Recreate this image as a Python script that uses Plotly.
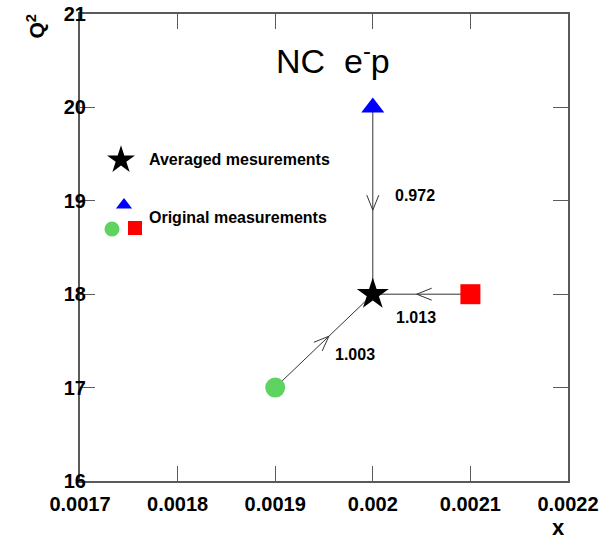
import numpy as np
import plotly.graph_objects as go

# ---------------- data ----------------
orig_x = [0.0019, 0.0020, 0.0021]
orig_q2 = [17.0, 20.0, 18.0]
orig_symbols = ["circle", "triangle-up", "square"]
orig_colors = ["#5fd35f", "#0000ff", "#ff0000"]
avg_x = [0.0020]
avg_q2 = [18.0]
ratios = ["1.003", "0.972", "1.013"]
x_ticks = [0.0017, 0.0018, 0.0019, 0.0020, 0.0021, 0.0022]
x_ticktext = ["0.0017", "0.0018", "0.0019", "0.002", "0.0021", "0.0022"]
y_ticks = [16, 17, 18, 19, 20, 21]
title_text = "NC\u00a0\u00a0e<sup>-</sup>p"
legend_labels = ["Averaged mesurements", "Original measurements"]

# ---------------- layout geometry (page pixel coords) ----------------
W, H = 611, 539
L, R, T, B = 80, 568, 14, 481
XR = [0.0017, 0.0022]
YR = [16, 21]
sx = (R - L) / (XR[1] - XR[0])
sy = (B - T) / (YR[1] - YR[0])

def to_px(x, y):
    return L + (x - XR[0]) * sx, B - (y - YR[0]) * sy

def to_data(px, py):
    return XR[0] + (px - L) / sx, YR[0] + (B - py) / sy

def pap(px, py):
    return (px - L) / (R - L), (B - py) / (B - T)

font_b = dict(family="Liberation Sans", color="black", weight="bold")
axcol = "#5a5a5a"
lncol = "#333333"

fig = go.Figure()

# connecting lines and open chevron arrowheads
for xo, yo in zip(orig_x, orig_q2):
    xa, ya = avg_x[0], avg_q2[0]
    fig.add_trace(go.Scatter(x=[xo, xa], y=[yo, ya], mode="lines",
                             line=dict(color=lncol, width=1),
                             hoverinfo="skip", showlegend=False))
    p0 = np.array(to_px(xo, yo)); p1 = np.array(to_px(xa, ya))
    d = (p1 - p0) / np.linalg.norm(p1 - p0)
    perp = np.array([-d[1], d[0]])
    tip = p0 + 0.55 * (p1 - p0)
    a1 = tip - 15 * d + 6 * perp
    a2 = tip - 15 * d - 6 * perp
    pts = [to_data(*a1), to_data(*tip), to_data(*a2)]
    fig.add_trace(go.Scatter(x=[p[0] for p in pts], y=[p[1] for p in pts], mode="lines",
                             line=dict(color=lncol, width=1),
                             hoverinfo="skip", showlegend=False))

# ratio labels, offset (pixels) from the line midpoints
label_shift = {"1.003": (9, -14), "0.972": (20, 5), "1.013": (-28, -23)}
for xo, yo, lab in zip(orig_x, orig_q2, ratios):
    mx, my = (xo + avg_x[0]) / 2, (yo + avg_q2[0]) / 2
    dx, dy = label_shift[lab]
    fig.add_annotation(x=mx, y=my, text=lab, showarrow=False, xanchor="left",
                       yanchor="middle", xshift=dx, yshift=dy,
                       font=dict(size=16, **font_b))

# original points
for xo, yo, s, c in zip(orig_x, orig_q2, orig_symbols, orig_colors):
    fig.add_trace(go.Scatter(x=[xo], y=[yo], mode="markers",
                             marker=dict(symbol=s, size=20, color=c, line=dict(width=0)),
                             showlegend=False))
# averaged point
fig.add_trace(go.Scatter(x=avg_x, y=avg_q2, mode="markers",
                         marker=dict(symbol="star", size=24, color="black", line=dict(width=0)),
                         showlegend=False))

# custom legend on overlay pixel axes
leg_pts = [(121, 160, "star", "black", 21), (124, 205, "triangle-up", "#0000ff", 14),
           (112, 229, "circle", "#5fd35f", 15), (135, 228, "square", "#ff0000", 14)]
for px, py, s, c, sz in leg_pts:
    fig.add_trace(go.Scatter(x=[px], y=[py], xaxis="x2", yaxis="y2", mode="markers",
                             marker=dict(symbol=s, size=sz, color=c, line=dict(width=0)),
                             showlegend=False, hoverinfo="skip"))
for (px, py), txt in zip([(147, 159), (147, 217)], legend_labels):
    fig.add_annotation(x=px, y=py, xref="x2", yref="y2", text=txt, showarrow=False,
                       xanchor="left", yanchor="middle", font=dict(size=16, **font_b))

# title, axis titles
tx, ty = pap(333, 58)
fig.add_annotation(x=tx, y=ty, xref="paper", yref="paper", text=title_text, showarrow=False,
                   xanchor="center", yanchor="middle",
                   font=dict(size=34, family="Liberation Sans", color="black"))
qx, qy = pap(36, 12)
fig.add_annotation(x=qx, y=qy, xref="paper", yref="paper", text="Q<sup>2</sup>", showarrow=False,
                   textangle=-90, xanchor="center", yanchor="top", font=dict(size=21, **font_b))
xx, xy = pap(567, 527)
fig.add_annotation(x=xx, y=xy, xref="paper", yref="paper", text="x", showarrow=False,
                   xanchor="right", yanchor="middle", font=dict(size=22, **font_b))

axis_common = dict(showline=True, linecolor=axcol, linewidth=2, mirror="ticks",
                   ticks="inside", ticklen=15, tickcolor=axcol, tickwidth=1,
                   showgrid=False, zeroline=False, automargin=False,
                   ticklabeloverflow="allow", tickfont=dict(size=20, **font_b))
fig.update_layout(
    width=W, height=H, margin=dict(l=L, r=W - R, t=T, b=H - B),
    paper_bgcolor="white", plot_bgcolor="white", showlegend=False,
    xaxis=dict(range=XR, tickvals=x_ticks, ticktext=x_ticktext, ticklabelstandoff=4,
               **axis_common),
    yaxis=dict(range=YR, tickvals=y_ticks, ticklabelstandoff=-12, **axis_common),
    xaxis2=dict(range=[L, R], overlaying="x", visible=False, domain=[0, 1]),
    yaxis2=dict(range=[B, T], overlaying="y", visible=False, domain=[0, 1]),
)

fig.write_html("out.html", config={"displayModeBar": False, "staticPlot": True},
               post_script="document.body.style.margin='0px';document.body.style.overflow='hidden';")
